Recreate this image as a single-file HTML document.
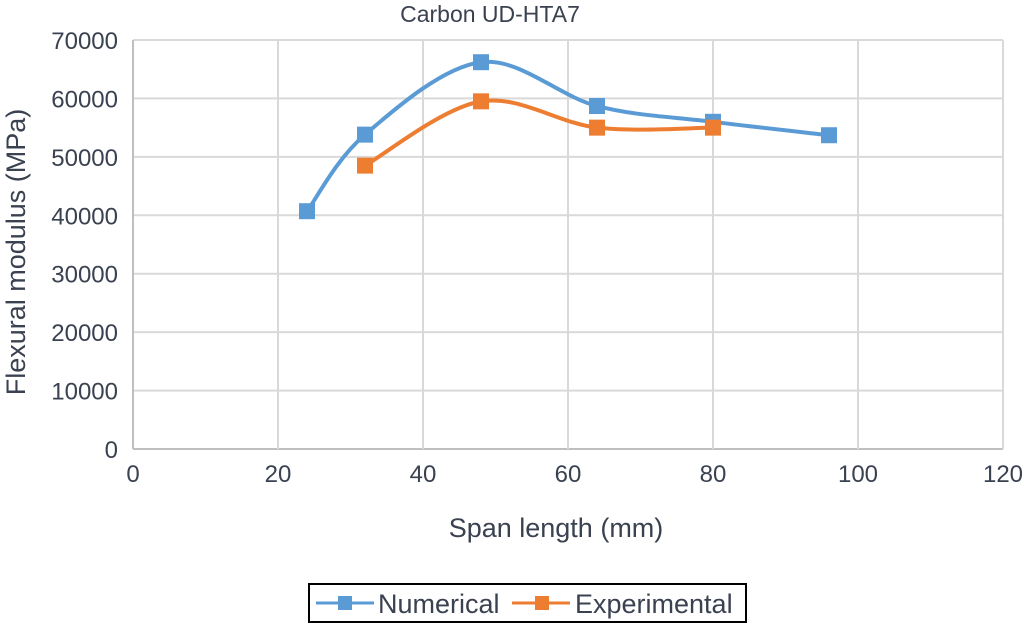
<!DOCTYPE html>
<html><head><meta charset="utf-8"><style>
body{margin:0;background:#fff;}
svg text{font-family:"Liberation Sans",sans-serif;fill:#3a4150;}
</style></head><body>
<svg id="chart" width="1024" height="625" xmlns="http://www.w3.org/2000/svg">
<text x="490" y="22" font-size="23" text-anchor="middle">Carbon UD-HTA7</text>
<g id="grid"></g>
<g id="axes"></g>
<g id="series"></g>
<text x="556" y="537" font-size="27" text-anchor="middle">Span length (mm)</text>
<text transform="translate(25,252) rotate(-90)" font-size="27" text-anchor="middle">Flexural modulus (MPa)</text>
<g>
<rect x="309" y="584" width="437" height="38" fill="#fff" stroke="#000" stroke-width="2"/>
<g>
<line x1="316" y1="603" x2="374" y2="603" stroke="#5b9bd5" stroke-width="3"/>
<rect x="338" y="596" width="14" height="14" fill="#5b9bd5"/>
<text x="378" y="613" font-size="27">Numerical</text></g>
<g>
<line x1="512" y1="603" x2="570" y2="603" stroke="#ed7d31" stroke-width="3"/>
<rect x="535" y="596" width="14" height="14" fill="#ed7d31"/>
<text x="575" y="613" font-size="27">Experimental</text></g>
</g>
</svg>
<script>
const xTicks=[0,20,40,60,80,100,120];
const yTicks=[0,10000,20000,30000,40000,50000,60000,70000];
const numX=[24,32,48,64,80,96];
const numY=[40700,53800,66200,58700,56000,53700];
const expX=[32,48,64,80];
const expY=[48500,59500,55000,55000];
const X0=133,X1=1003,Y0=449,Y1=40;
const sx=v=>X0+(v-0)/120*(X1-X0);
const sy=v=>Y0-(v-0)/70000*(Y0-Y1);
const NS="http://www.w3.org/2000/svg";
function mk(t,a,p){const e=document.createElementNS(NS,t);for(const k in a)e.setAttribute(k,a[k]);p.appendChild(e);return e;}
const grid=document.getElementById('grid'),axes=document.getElementById('axes'),ser=document.getElementById('series');
yTicks.forEach(v=>{const l=mk('line',{x1:X0,x2:X1,y1:sy(v),y2:sy(v),stroke:v===0?'#bfbfbf':'#d9d9d9','stroke-width':2},grid);


const t=mk('text',{x:X0-15,y:sy(v)+9,'font-size':24,'text-anchor':'end'},axes);t.textContent=v;

});
xTicks.forEach(v=>{const l=mk('line',{x1:sx(v),x2:sx(v),y1:Y1,y2:Y0,stroke:v===0?'#bfbfbf':'#d9d9d9','stroke-width':2},grid);


const t=mk('text',{x:sx(v),y:482,'font-size':24,'text-anchor':'middle'},axes);t.textContent=v;

});
function smooth(px,py){const P=px.map((x,i)=>[sx(x),sy(py[i])]);let d='M'+P[0][0]+','+P[0][1];
for(let i=0;i<P.length-1;i++){const p0=P[i-1]||P[i],p1=P[i],p2=P[i+1],p3=P[i+2]||P[i+1];const k=6;
d+=` C${p1[0]+(p2[0]-p0[0])/k},${p1[1]+(p2[1]-p0[1])/k} ${p2[0]-(p3[0]-p1[0])/k},${p2[1]-(p3[1]-p1[1])/k} ${p2[0]},${p2[1]}`;}return d;}
function draw(px,py,col,name){const p=mk('path',{d:smooth(px,py),fill:'none',stroke:col,'stroke-width':4},ser);


px.forEach((x,i)=>{const r=mk('rect',{x:sx(x)-8,y:sy(py[i])-8,width:16,height:16,fill:col},ser);

});}
draw(numX,numY,'#5b9bd5','numerical');
draw(expX,expY,'#ed7d31','experimental');
</script>
</body></html>
